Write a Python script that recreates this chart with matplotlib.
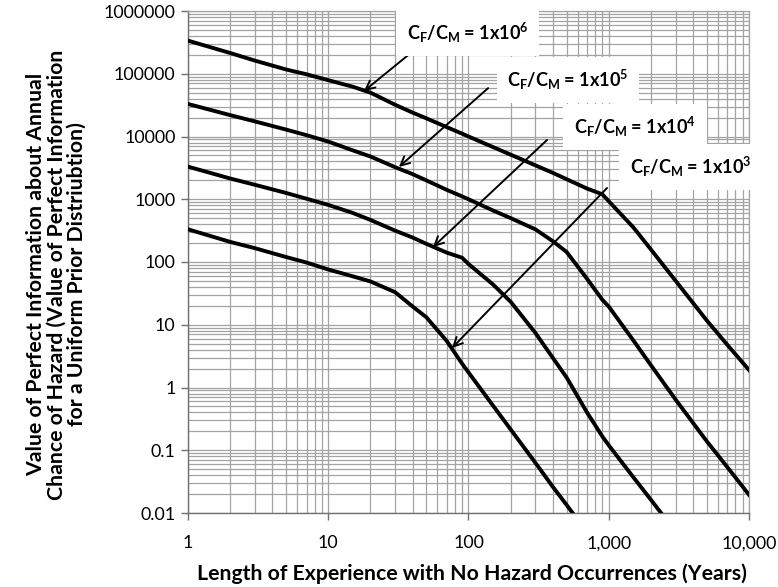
import numpy as np
import matplotlib
matplotlib.use("Agg")
import matplotlib.pyplot as plt
from matplotlib.ticker import FixedLocator, FixedFormatter, NullFormatter, LogLocator

plt.rcParams['font.family'] = ['Lato', 'DejaVu Sans']
plt.rcParams['mathtext.fontset'] = 'custom'
plt.rcParams['mathtext.rm'] = 'Lato:bold'
plt.rcParams['mathtext.bf'] = 'Lato:bold'
plt.rcParams['mathtext.it'] = 'Lato:bold'
plt.rcParams['mathtext.default'] = 'bf'

# ---- data ----
years = [1, 2, 3, 5, 7, 10, 15, 20, 30, 40, 50, 70, 90, 100, 150, 200, 300, 400,
         500, 700, 900, 1000, 1500, 2000, 3000, 5000, 7000, 10000]
nan = np.nan
vpi_1e6 = [337000, 214000, 162000, 117000, 98000, 79000, 62000, 50000, 32000, 24000,
           19500, 14100, 11100, 10000, 6760, 5130, 3470, 2630, 2090, 1480, 1200, 930,
           355, 158, 50, 11.7, 4.8, 1.9]
vpi_1e5 = [33000, 21900, 17400, 12900, 10500, 8300, 6000, 4800, 3240, 2510, 2000,
           1410, 1110, 1000, 660, 500, 331, 214, 145, 54, 25, 19.5, 5.6, 2.26, 0.64,
           0.139, 0.054, 0.0195]
vpi_1e4 = [3310, 2140, 1700, 1260, 1020, 813, 603, 468, 316, 245, 195, 141, 117, 93,
           43.6, 23.2, 7.4, 2.95, 1.45, 0.40, 0.166, 0.12, 0.037, 0.0162, 0.005,
           nan, nan, nan]
vpi_1e3 = [332, 209, 166, 120, 98, 76, 59, 49, 33, 19.5, 13.2, 5.5, 2.4, 1.74, 0.51,
           0.214, 0.063, 0.026, 0.0135, 0.0049, nan, nan, nan, nan, nan, nan, nan, nan]

series = [vpi_1e6, vpi_1e5, vpi_1e4, vpi_1e3]
labels = ["C$_F$/C$_M$ = 1x10$^6$", "C$_F$/C$_M$ = 1x10$^5$",
          "C$_F$/C$_M$ = 1x10$^4$", "C$_F$/C$_M$ = 1x10$^3$"]
# label text centre and arrow (start, tip) in data coordinates
label_pos = [(99, 4.5e5), (512, 7.9e4), (1540, 1.42e4), (3860, 3.27e3)]
arrow_start = [(42, 2.48e5), (138, 5.9e4), (363, 8.8e3), (972, 1.51e3)]
arrow_tip = [(18.0, 5.3e4), (31.9, 3.27e3), (55.8, 173), (76.3, 4.26)]

xticks = [1, 10, 100, 1000, 10000]
xticklabels = ["1", "10", "100", "1,000", "10,000"]
yticks = [0.01, 0.1, 1, 10, 100, 1000, 10000, 100000, 1000000]
yticklabels = ["0.01", "0.1", "1", "10", "100", "1000", "10000", "100000", "1000000"]

xlabel = "Length of Experience with No Hazard Occurrences (Years)"
ylabel = ("Value of Perfect Information about Annual\n"
          "Chance of Hazard (Value of Perfect Information\n"
          "for a Uniform Prior Distriubtion)")

# ---- figure ----
fig = plt.figure(figsize=(7.78, 5.87), dpi=100)
ax = fig.add_axes([188/778, 1-513/587, (749-188)/778, (513-11)/587])
ax.set_xscale('log')
ax.set_yscale('log')
ax.set_xlim(1, 10000)
ax.set_ylim(0.01, 1000000)

gridc = '#a3a3a3'
ax.xaxis.set_minor_locator(LogLocator(base=10, subs=np.arange(2, 10)))
ax.yaxis.set_minor_locator(LogLocator(base=10, subs=np.arange(2, 10)))
ax.grid(True, which='both', color=gridc, lw=0.9)
ax.set_axisbelow(True)

for s in series:
    ax.plot(years, s, color='black', lw=2.8, solid_joinstyle='round', zorder=3)

for lab, lp, st, tp in zip(labels, label_pos, arrow_start, arrow_tip):
    ax.annotate("", xy=tp, xytext=st,
                arrowprops=dict(arrowstyle='->', color='black', lw=1.4,
                                mutation_scale=16, shrinkA=0, shrinkB=0),
                zorder=4)
    ax.text(lp[0], lp[1], lab, ha='center', va='center', fontsize=13,
            fontweight='bold', color='black', zorder=5, clip_on=False,
            bbox=dict(boxstyle='square,pad=0.6', fc='white', ec='none'))

ax.xaxis.set_major_locator(FixedLocator(xticks))
ax.xaxis.set_major_formatter(FixedFormatter(xticklabels))
ax.xaxis.set_minor_formatter(NullFormatter())
ax.yaxis.set_major_locator(FixedLocator(yticks))
ax.yaxis.set_major_formatter(FixedFormatter(yticklabels))
ax.yaxis.set_minor_formatter(NullFormatter())
ax.tick_params(which='minor', length=0)
ax.tick_params(which='major', length=5, width=1, color='#707070',
               labelsize=12.8, labelcolor='black')
ax.tick_params(axis='x', which='major', pad=11)
ax.tick_params(axis='y', which='major', pad=4)

for side in ['left', 'bottom']:
    ax.spines[side].set_color('#707070')
    ax.spines[side].set_linewidth(1.0)
for side in ['top', 'right']:
    ax.spines[side].set_color(gridc)
    ax.spines[side].set_linewidth(0.9)

ax.set_xlabel(xlabel, fontsize=15.3, fontweight='bold')
ax.xaxis.set_label_coords(0.506, -0.100)
ax.xaxis.label.set_va('top')
ax.set_ylabel(ylabel, fontsize=15.3, fontweight='bold', linespacing=1.04)
ax.yaxis.set_label_coords(-0.18, 0.475)

fig.savefig('out.png', dpi=100)
